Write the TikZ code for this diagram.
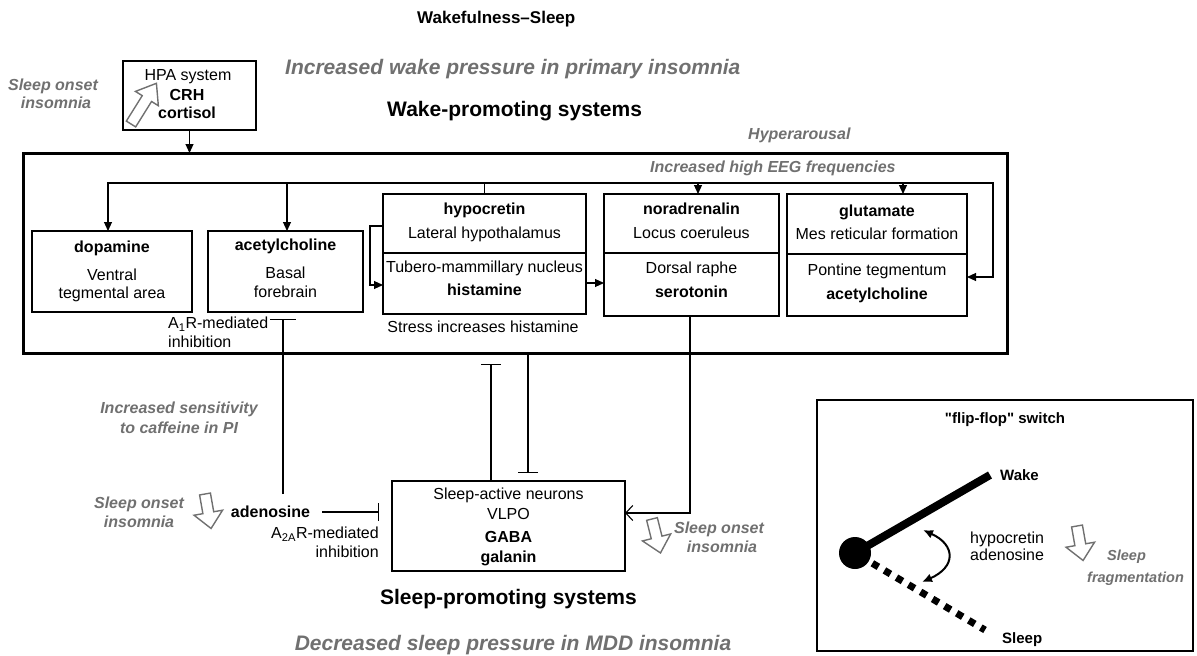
\documentclass[tikz,border=0pt]{standalone}
\usepackage{fontspec}
\setmainfont{Liberation Sans}
\newfontfamily\qsans{Liberation Sans}[Ligatures=TeXOff]
\usetikzlibrary{arrows.meta}
\newcommand\fsz[2]{\fontsize{#1}{#2}\selectfont}
\definecolor{gtext}{RGB}{112,112,112}
\tikzset{
  box/.style={draw, line width=1.4pt, inner sep=0pt, outer sep=0pt},
  bigbox/.style={draw, line width=3pt, inner sep=0pt, outer sep=0pt},
  vbox/.style={draw, line width=2.4pt, inner sep=0pt, outer sep=0pt},
  n16/.style={inner sep=0pt, font=\fsz{16}{19}, text height=11.5pt, text depth=0pt},
  b16/.style={n16, font=\fsz{16}{19}\bfseries},
  g16/.style={n16, font=\fsz{16}{19}\bfseries\itshape, text=gtext},
  b15/.style={inner sep=0pt, font=\fsz{15}{18}\bfseries, text height=10.8pt, text depth=0pt},
  g14/.style={inner sep=0pt, font=\fsz{14.5}{17}\bfseries\itshape, text=gtext, text height=10.4pt, text depth=0pt},
  b17/.style={inner sep=0pt, font=\fsz{17}{20}\bfseries, text height=12.2pt, text depth=0pt},
  b21/.style={inner sep=0pt, font=\fsz{21}{25}\bfseries, text height=15pt, text depth=0pt},
  g21/.style={b21, font=\fsz{21}{25}\bfseries\itshape, text=gtext},
  thinl/.style={line width=1.1pt},
  arr/.style={thinl, -{Triangle[length=9pt,width=8pt]}},
  inh/.style={thinl, -{Bar[width=20pt,line width=1.1pt]}},
  oarr/.style={thinl, -{Straight Barb[length=7pt,width=15pt,line width=1.1pt]}},
  smallhollow/.pic={\draw[gtext, line width=1.4pt, fill=white, line join=miter]
     (0,-5.5) -- (19,-5.5) -- (19,-14.5) -- (35,0) -- (19,14.5) -- (19,5.5) -- (0,5.5) -- cycle;},
  bighollow/.pic={\draw[gtext, line width=1.4pt, fill=white, line join=miter]
     (0,-5.5) -- (30,-5.5) -- (30,-13.5) -- (48,0) -- (30,13.5) -- (30,5.5) -- (0,5.5) -- cycle;},
}
\begin{document}
\begin{tikzpicture}[x=1pt,y=-1pt]
\useasboundingbox (0,0) rectangle (1197,656);

% titles
\node[b17, anchor=west] (title) at (417,17) {Wakefulness–Sleep};
\node[g21, anchor=west] (incw) at (285,67) {Increased wake pressure in primary insomnia};
\node[b21, anchor=west] (wps) at (387,109) {Wake-promoting systems};
\node[g16, anchor=west] (hyper) at (748,134) {Hyperarousal};
\node[g16, anchor=west] (eeg) at (650,167) {Increased high EEG frequencies};
\node[g16] (soiA) at (53,85) {Sleep onset};
\node[g16] (soiB) at (56,103) {insomnia};

% HPA box
\node[box, minimum width=133pt, minimum height=69pt] (hpa) at (189.5,95.5) {};
\node[n16] (hpaA) at (188,75) {HPA system};
\node[b16] (hpaB) at (187,95) {CRH};
\node[b16] (hpaC) at (187,113) {cortisol};
\pic[rotate=58] at (131,124) {bighollow};

% wake-promoting big box
\node[bigbox, minimum width=984pt, minimum height=200pt] (wbox) at (515,253) {};
\draw[arr] (hpa.south) -- (hpa.south |- wbox.north);

% inner boxes
\node[box, minimum width=160pt, minimum height=81pt] (dop) at (112,271.5) {};
\node[b16] (dopA) at (112,247) {dopamine};
\node[n16] (dopB) at (112,275) {Ventral};
\node[n16] (dopC) at (112,293) {tegmental area};

\node[box, minimum width=155pt, minimum height=81pt] (ach) at (285.5,271.5) {};
\node[b16] (achA) at (285.5,245) {acetylcholine};
\node[n16] (achB) at (285.5,273) {Basal};
\node[n16] (achC) at (285.5,292) {forebrain};

\node[box, minimum width=203pt, minimum height=120pt] (hyp) at (484.5,254) {};
\draw[line width=1.4pt] ([yshift=1pt]hyp.west) -- ([yshift=1pt]hyp.east);
\node[b16] (hypA) at (484.5,209) {hypocretin};
\node[n16] (hypB) at (484.5,233) {Lateral hypothalamus};
\node[n16] (hypC) at (484.5,267) {Tubero-mammillary nucleus};
\node[b16] (hypD) at (484.5,290) {histamine};
\node[n16] (stress) at (483,327) {Stress increases histamine};

\node[box, minimum width=175pt, minimum height=122pt] (nor) at (691.5,255) {};
\draw[line width=1.4pt] ([yshift=2pt]nor.west) -- ([yshift=2pt]nor.east);
\node[b16] (norA) at (691.5,209) {noradrenalin};
\node[n16] (norB) at (691.5,233) {Locus coeruleus};
\node[n16] (norC) at (691.5,268) {Dorsal raphe};
\node[b16] (norD) at (691.5,292) {serotonin};

\node[box, minimum width=180pt, minimum height=122pt] (glu) at (877,255) {};
\draw[line width=1.4pt] ([yshift=1pt]glu.west) -- ([yshift=1pt]glu.east);
\node[b16] (gluA) at (877,211) {glutamate};
\node[n16] (gluB) at (877,234) {Mes reticular formation};
\node[n16] (gluC) at (877,270) {Pontine tegmentum};
\node[b16] (gluD) at (877,294) {acetylcholine};

\node[n16, anchor=west] (a1A) at (168,323) {A\textsubscript{1}R-mediated};
\node[n16, anchor=west] (a1B) at (168,342) {inhibition};

% distribution from hypocretin
\coordinate (hub) at (485,183);
\coordinate (rt) at (993,183);
\draw[thinl] (hyp.north) -- (hyp.north |- hub);
\draw[arr] (hub) -| ([xshift=-4pt]dop.north);
\draw[arr] (hub) -| ([xshift=1.5pt]ach.north);
\draw[arr] (hub) -| ([xshift=6.5pt]nor.north);
\draw[arr] (hub) -| ([xshift=26pt]glu.north);
\draw[arr] (hub) -- (rt) |- ([yshift=-22pt]glu.east);
\draw[arr] ([yshift=28pt]hyp.west) -- ++(-13,0) |- ([yshift=-31pt]hyp.west);
\path ([yshift=-29pt]hyp.east) coordinate (hn);
\draw[arr] (hn) -- (hn -| nor.west);

% sleep-promoting
\node[vbox, minimum width=233pt, minimum height=90pt] (vlpo) at (508.5,526) {};
\node[n16] (vA) at (508.5,494) {Sleep-active neurons};
\node[n16] (vB) at (508.5,514) {VLPO};
\node[b16] (vC) at (508.5,537) {GABA};
\node[b16] (vD) at (508.5,557) {galanin};
\node[b21] (sps) at (508.5,597) {Sleep-promoting systems};
\node[g21] (dsp) at (513,643) {Decreased sleep pressure in MDD insomnia};

\path ([yshift=13pt]vlpo.east) coordinate (vin);
\draw[oarr] ([xshift=-1.5pt]nor.south) |- (vin);

\coordinate (tA) at (491,364);
\draw[inh] (tA |- vlpo.north) -- (tA);
\coordinate (tB) at (528,473);
\draw[inh] (tB |- wbox.south) -- (tB);

% adenosine
\node[b16] (ado) at (270.5,512) {adenosine};
\path ([yshift=12pt]ado.north) coordinate (adoTop);
\coordinate (tC) at (283,319);
\draw[thinl, -{Bar[width=26pt,line width=1.1pt]}] (adoTop -| tC) -- (tC);
\path ([xshift=12pt]ado.east) coordinate (adoR);
\coordinate (tD) at (379,513);
\draw[thinl, -{Bar[width=18pt,line width=1.1pt]}] (adoR) -- (adoR -| tD);
\node[n16, anchor=east] (a2A) at (379,533) {A\textsubscript{2A}R-mediated};
\node[n16, anchor=east] (a2B) at (379,552) {inhibition};

\node[g16] (isA) at (179,408) {Increased sensitivity};
\node[g16] (isB) at (179,428) {to caffeine in PI};
\node[g16] (so2A) at (139,503) {Sleep onset};
\node[g16] (so2B) at (139,522) {insomnia};
\pic[rotate=-80] at (205,494) {smallhollow};

\node[g16] (so3A) at (719,528) {Sleep onset};
\node[g16] (so3B) at (722,547) {insomnia};
\pic[rotate=-76] at (652,519) {smallhollow};

% flip-flop switch
\node[vbox, minimum width=376pt, minimum height=251pt] (ff) at (1005,525.5) {};
\node[b15, font=\fsz{15}{18}\qsans\bfseries] (ffT) at (1005,418) {"flip-flop" switch};
\node[circle, fill=black, minimum size=32pt, inner sep=0pt] (pivot) at (855,553) {};
\coordinate (wk) at (990,475);
\coordinate (sl) at (985,630);
\draw[line width=8pt] (pivot.center) -- (wk);
\draw[line width=7pt, dash pattern=on 7pt off 7pt, shorten <=4pt] (pivot) -- (sl);
\node[b15, anchor=west] (wakeL) at (1000,475) {Wake};
\node[b15, anchor=west] (sleepL) at (1002,638) {Sleep};
\coordinate (ca1) at (923,530);
\coordinate (ca2) at (922,582);
\draw[line width=2pt, {Latex[length=10pt,width=9pt]}-{Latex[length=10pt,width=9pt]}]
  (ca1) .. controls (956,545) and (956,567) .. (ca2);
\node[n16, anchor=west] (hcA) at (970,538) {hypocretin};
\node[n16, anchor=west] (hcB) at (970,555) {adenosine};
\pic[rotate=-80] at (1077,526) {smallhollow};
\node[g14, anchor=west] (sfA) at (1107,555) {Sleep};
\node[g14, anchor=west] (sfB) at (1087,577) {fragmentation};
\end{tikzpicture}
\end{document}
